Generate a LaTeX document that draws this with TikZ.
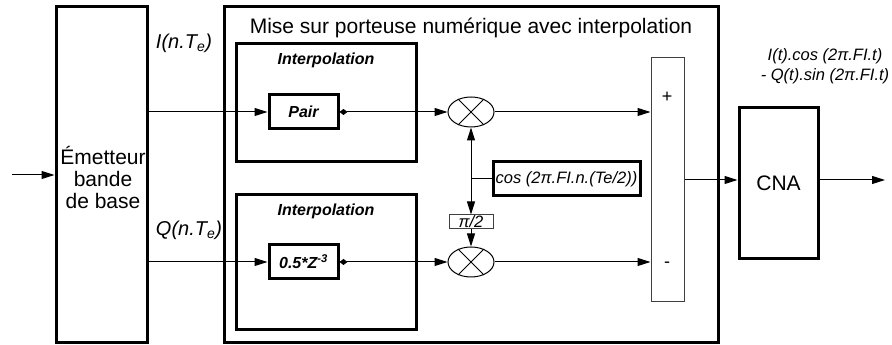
\documentclass[tikz,border=0pt]{standalone}
\usepackage{fontspec}
\setmainfont{Liberation Sans}
\usetikzlibrary{arrows.meta, positioning, shapes.geometric}

\begin{document}
\begin{tikzpicture}[x=1pt,y=1pt,>={Triangle[length=13pt,width=8pt]},
    gros/.style={draw, line width=3pt, inner sep=0pt},
    fin/.style={draw=black!75, line width=1pt, inner sep=0pt},
    mult/.style={draw, ellipse, line width=1pt, minimum width=46pt, minimum height=30pt},
    grand/.style={font=\fontsize{21}{22}\selectfont},
    petit/.style={font=\fontsize{16.5}{20}\selectfont\itshape},
    titre/.style={font=\fontsize{16}{18}\selectfont\bfseries\itshape}]

    \useasboundingbox (0,0) rectangle (892,345);

    \node[gros, minimum width=91pt, minimum height=336pt] (emet) at (101.5,170) {};
    \node[grand, align=center] (emettxt) at (103,167) {Émetteur\\bande\\de base};
    \node[gros, minimum width=494pt, minimum height=336pt] (porteuse) at (471,170) {};
    \node[grand] (titre) at (471,317) {Mise sur porteuse numérique avec interpolation};

    \node[gros, minimum width=180pt, minimum height=118pt] (interpI) at (326,242) {};
    \node[gros, minimum width=180pt, minimum height=135pt] (interpQ) at (326,82.5) {};
    \node[titre] (tI) at (326,285) {Interpolation};
    \node[titre] (tQ) at (326,134) {Interpolation};

    \node[gros, titre, minimum width=69pt, minimum height=34pt] (pair) at (303.5,233) {Pair};
    \node[gros, titre, minimum width=69pt, minimum height=34pt] (retard) at (303.5,83) {0.5*Z\textsuperscript{-3}};

    \node[petit, font=\fontsize{20}{22}\selectfont\itshape] (lI) at (184,302) {I(n.T\textsubscript{e})};
    \node[petit, font=\fontsize{20}{22}\selectfont\itshape] (lQ) at (189,115) {Q(n.T\textsubscript{e})};

    \node[mult] (m1) at (471,233) {};
    \node[mult] (m2) at (471,83) {};
    \draw[line width=1pt] (m1.45) -- (m1.225) (m1.135) -- (m1.315);
    \draw[line width=1pt] (m2.45) -- (m2.225) (m2.135) -- (m2.315);

    \node[gros, petit, minimum width=147pt, minimum height=34pt] (cosb) at (566.5,166) {cos (2π.FI.n.(Te/2))};
    \node[fin, petit, minimum width=44pt, minimum height=14pt] (pi2) at (471,123) {π/2};

    \node[fin, minimum width=33pt, minimum height=244pt] (sum) at (667.5,165) {};
    \node[font=\fontsize{18}{20}\selectfont] (plus) at (667,248) {+};
    \node[font=\fontsize{18}{20}\selectfont] (moins) at (667,80) {-};

    \node[gros, grand, minimum width=79pt, minimum height=151pt] (cna) at (778.5,161.5) {CNA};
    \node[petit, align=center] (sortietxt) at (825,279) {I(t).cos (2π.FI.t)\\- Q(t).sin (2π.FI.t)};

    \coordinate (entree) at (12,170);
    \coordinate (sortie) at (885,165);
    \coordinate (j) at (m1 |- cosb);

    \path[->, line width=1pt]
    (entree) edge (emet.west)
    (emet.east |- pair) edge (pair.west)
    (emet.east |- retard) edge (retard.west)
    (pair.east) edge[{Diamond[length=8pt,width=6pt]}->] (m1.west)
    (retard.east) edge[{Diamond[length=8pt,width=6pt]}->] (m2.west)
    (m1.east) edge (sum.west |- m1)
    (m2.east) edge (sum.west |- m2)
    (cosb.west) edge[-] (j)
    (j) edge (m1.south)
    (j) edge (pi2.north)
    (pi2.south) edge (m2.north)
    (sum.east) edge (sum.east -| cna.west)
    (cna.east |- sum.east) edge (sortie)
    ;
\end{tikzpicture}
\end{document}
